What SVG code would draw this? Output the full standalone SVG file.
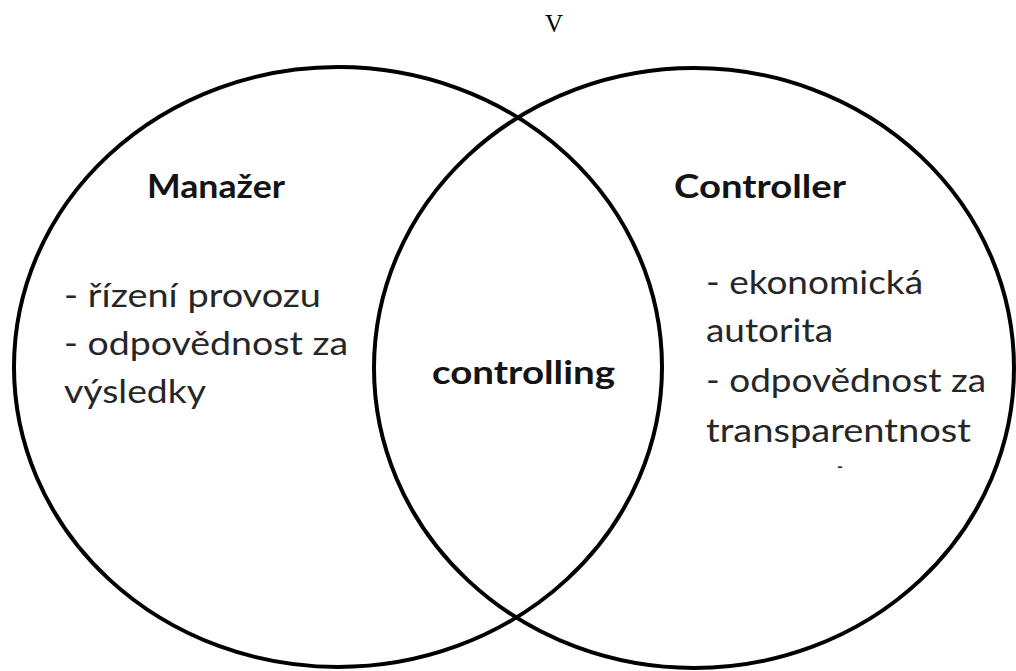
<svg xmlns="http://www.w3.org/2000/svg" width="1016" height="671" viewBox="0 0 1016 671">
  <style>
    .ring { fill: none; stroke: #000; stroke-width: 4; }
    .head { font-family: Lato, "Open Sans", "Liberation Sans", sans-serif; font-weight: bold; font-size: 33px; fill: #141414; }
    .item { font-family: Lato, "Open Sans", "Liberation Sans", sans-serif; font-size: 33px; fill: #262626; }
    .tick { font-family: Lato, "Open Sans", "Liberation Sans", sans-serif; font-size: 16px; font-weight: bold; fill: #262626; }
    .mark { font-family: "Liberation Serif", serif; font-size: 25px; fill: #000; }
  </style>
  <rect width="1016" height="671" fill="#fff"/>

  <!-- stray letter above the diagram -->
  <text class="mark" x="554" y="32" text-anchor="middle">V</text>

  <!-- left set: the manager -->
  <g id="manazer">
    <ellipse class="ring" cx="338" cy="367" rx="324" ry="300"/>
    <text class="head" x="147" y="198" textLength="138" lengthAdjust="spacingAndGlyphs">Manažer</text>
    <text class="item" x="64" y="307" textLength="257" lengthAdjust="spacingAndGlyphs">- řízení provozu</text>
    <text class="item" x="64" y="355" textLength="284" lengthAdjust="spacingAndGlyphs">- odpovědnost za</text>
    <text class="item" x="64" y="403" textLength="142" lengthAdjust="spacingAndGlyphs">výsledky</text>
  </g>

  <!-- right set: the controller -->
  <g id="controller">
    <ellipse class="ring" cx="694" cy="368" rx="320" ry="300"/>
    <text class="head" x="674" y="198" textLength="172" lengthAdjust="spacingAndGlyphs">Controller</text>
    <text class="item" x="706" y="294" textLength="217" lengthAdjust="spacingAndGlyphs">- ekonomická</text>
    <text class="item" x="706" y="342" textLength="127" lengthAdjust="spacingAndGlyphs">autorita</text>
    <text class="item" x="706" y="392" textLength="280" lengthAdjust="spacingAndGlyphs">- odpovědnost za</text>
    <text class="item" x="706" y="442" textLength="265" lengthAdjust="spacingAndGlyphs">transparentnost</text>
    <text class="tick" x="837" y="472">-</text>
  </g>

  <!-- overlap of both sets -->
  <g id="controlling">
    <text class="head" x="432" y="384" textLength="183" lengthAdjust="spacingAndGlyphs">controlling</text>
  </g>

  <g id="connectors"/>
</svg>
